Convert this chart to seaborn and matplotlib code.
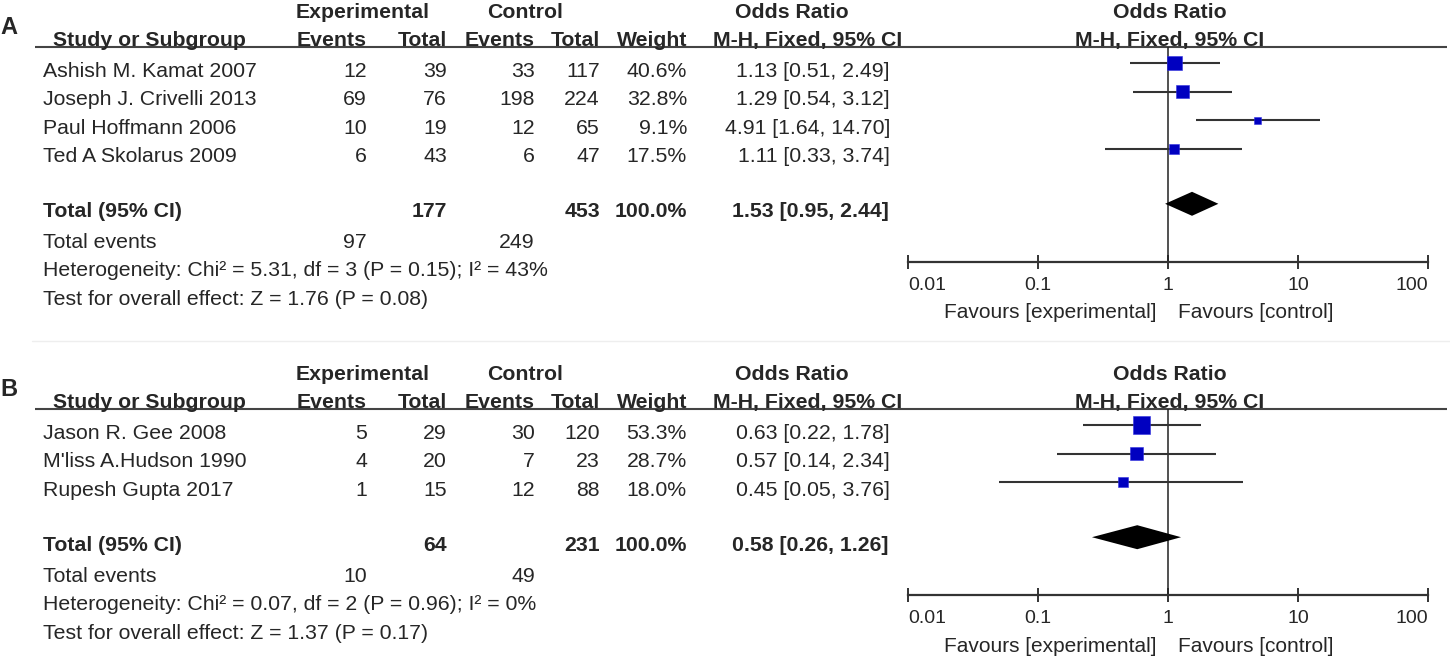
import matplotlib.pyplot as plt
import matplotlib.ticker as mticker
import pandas as pd
import seaborn as sns

# ---- Panel A data ----
a_studies = ['Ashish M. Kamat 2007', 'Joseph J. Crivelli 2013', 'Paul Hoffmann 2006', 'Ted A Skolarus 2009']
a_exp_events = [12, 69, 10, 6]
a_exp_total = [39, 76, 19, 43]
a_ctl_events = [33, 198, 12, 6]
a_ctl_total = [117, 224, 65, 47]
a_weight = [40.6, 32.8, 9.1, 17.5]
a_or = [1.13, 1.29, 4.91, 1.11]
a_lo = [0.51, 0.54, 1.64, 0.33]
a_hi = [2.49, 3.12, 14.70, 3.74]
a_pooled = [1.53, 0.95, 2.44]
a_sum_total = [177, 453]
a_sum_events = [97, 249]
a_het = 'Heterogeneity: Chi\u00b2 = 5.31, df = 3 (P = 0.15); I\u00b2 = 43%'
a_test = 'Test for overall effect: Z = 1.76 (P = 0.08)'

# ---- Panel B data ----
b_studies = ['Jason R. Gee 2008', "M'liss A.Hudson 1990", 'Rupesh Gupta 2017']
b_exp_events = [5, 4, 1]
b_exp_total = [29, 20, 15]
b_ctl_events = [30, 7, 12]
b_ctl_total = [120, 23, 88]
b_weight = [53.3, 28.7, 18.0]
b_or = [0.63, 0.57, 0.45]
b_lo = [0.22, 0.14, 0.05]
b_hi = [1.78, 2.34, 3.76]
b_pooled = [0.58, 0.26, 1.26]
b_sum_total = [64, 231]
b_sum_events = [10, 49]
b_het = 'Heterogeneity: Chi\u00b2 = 0.07, df = 2 (P = 0.96); I\u00b2 = 0%'
b_test = 'Test for overall effect: Z = 1.37 (P = 0.17)'

or_ticks = [0.01, 0.1, 1, 10, 100]
or_tick_labels = ['0.01', '0.1', '1', '10', '100']

W, H = 1450, 658
TXT = '#262626'
FS = 15.3

sns.set_theme(style='white')
plt.rcParams['font.family'] = ['Liberation Sans', 'DejaVu Sans']

fig = plt.figure(figsize=(W / 100, H / 100), dpi=100)
tab = fig.add_axes([0, 0, 1, 1])
tab.set_xlim(0, W)
tab.set_ylim(H, 0)
tab.axis('off')


def put(x, y, s, ha='left', bold=False, size=FS):
    # y is the visual centre of the glyphs, in pixels from the top
    tab.text(x, y + 0.36 * size / 0.72, s, ha=ha, va='baseline', fontsize=size,
             fontweight='bold' if bold else 'normal', color=TXT)


def draw_panel(letter, line_y, studies, exp_ev, exp_tot, ctl_ev, ctl_tot, weight,
               odds, lo, hi, pooled, sum_total, sum_events, het, test):
    pitch = 28.6
    rows = [line_y + 16 + i * pitch for i in range(len(studies))]
    diamond_y = rows[-1] + 55
    axis_y = diamond_y + 58

    # header
    put(0, line_y - 22, letter, bold=True, size=17)
    put(363, line_y - 37, 'Experimental', ha='center', bold=True)
    put(525, line_y - 37, 'Control', ha='center', bold=True)
    put(792, line_y - 37, 'Odds Ratio', ha='center', bold=True)
    put(1170, line_y - 37, 'Odds Ratio', ha='center', bold=True)
    put(53, line_y - 9, 'Study or Subgroup', bold=True)
    put(367, line_y - 9, 'Events', ha='right', bold=True)
    put(447, line_y - 9, 'Total', ha='right', bold=True)
    put(535, line_y - 9, 'Events', ha='right', bold=True)
    put(600, line_y - 9, 'Total', ha='right', bold=True)
    put(687, line_y - 9, 'Weight', ha='right', bold=True)
    put(808, line_y - 9, 'M-H, Fixed, 95% CI', ha='center', bold=True)
    put(1170, line_y - 9, 'M-H, Fixed, 95% CI', ha='center', bold=True)
    tab.plot([35, 1447], [line_y, line_y], color='#444444', lw=1.5, solid_capstyle='butt')

    # study rows
    for i, y in enumerate(rows):
        ty = y + 6
        put(43, ty, studies[i])
        put(367, ty, str(exp_ev[i]), ha='right')
        put(447, ty, str(exp_tot[i]), ha='right')
        put(535, ty, str(ctl_ev[i]), ha='right')
        put(600, ty, str(ctl_tot[i]), ha='right')
        put(687, ty, f'{weight[i]:.1f}%', ha='right')
        put(890, ty, f'{odds[i]:.2f} [{lo[i]:.2f}, {hi[i]:.2f}]', ha='right')

    # pooled rows
    ty = diamond_y + 6
    put(43, ty, 'Total (95% CI)', bold=True)
    put(447, ty, str(sum_total[0]), ha='right', bold=True)
    put(600, ty, str(sum_total[1]), ha='right', bold=True)
    put(687, ty, '100.0%', ha='right', bold=True)
    put(889, ty, f'{pooled[0]:.2f} [{pooled[1]:.2f}, {pooled[2]:.2f}]', ha='right', bold=True)
    put(43, diamond_y + 37, 'Total events')
    put(367, diamond_y + 37, str(sum_events[0]), ha='right')
    put(535, diamond_y + 37, str(sum_events[1]), ha='right')
    put(43, diamond_y + 65, het)
    put(43, diamond_y + 94, test)

    # forest plot
    ax = fig.add_axes([908 / W, 1 - axis_y / H, 520 / W, (axis_y - line_y) / H])
    ax.patch.set_alpha(0)
    ax.set_xscale('log')
    ax.set_xlim(0.01, 100)
    ax.set_ylim(axis_y, line_y)
    ax.axvline(1, color='#222222', lw=1.1, zorder=1)
    ax.hlines(rows, lo, hi, color='#333333', lw=1.5, zorder=2)
    df = pd.DataFrame({'or': odds, 'y': rows, 'weight': weight})
    sns.scatterplot(data=df, x='or', y='y', size='weight', sizes=(0, 286), size_norm=(0, 100),
                    marker='s', color='#0000c0', edgecolor='#3030e0', linewidth=0.4,
                    legend=False, ax=ax, zorder=3)
    ax.fill([pooled[1], pooled[0], pooled[2], pooled[0]],
            [diamond_y, diamond_y - 12, diamond_y, diamond_y + 12],
            color='black', lw=0, zorder=3)
    for s in ['top', 'left', 'right']:
        ax.spines[s].set_visible(False)
    ax.spines['bottom'].set_color('#333333')
    ax.spines['bottom'].set_linewidth(1.6)
    ax.set_xticks(or_ticks)
    ax.set_xticklabels(or_tick_labels)
    ax.xaxis.set_minor_locator(mticker.NullLocator())
    ax.set_yticks([])
    ax.set_xlabel('')
    ax.set_ylabel('')
    ax.tick_params(axis='x', direction='inout', length=9.5, width=1.4, pad=6,
                   labelsize=14, colors='#333333', labelcolor=TXT, bottom=True)
    labs = ax.get_xticklabels()
    labs[0].set_ha('left')
    labs[-1].set_ha('right')

    put(1157, axis_y + 49, 'Favours [experimental]', ha='right', size=15)
    put(1178, axis_y + 49, 'Favours [control]', size=15)


draw_panel('A', 47, a_studies, a_exp_events, a_exp_total, a_ctl_events, a_ctl_total, a_weight,
           a_or, a_lo, a_hi, a_pooled, a_sum_total, a_sum_events, a_het, a_test)
tab.plot([32, W], [341, 341], color='#eeeeee', lw=1)
draw_panel('B', 409, b_studies, b_exp_events, b_exp_total, b_ctl_events, b_ctl_total, b_weight,
           b_or, b_lo, b_hi, b_pooled, b_sum_total, b_sum_events, b_het, b_test)

fig.savefig('out.png', dpi=100)
